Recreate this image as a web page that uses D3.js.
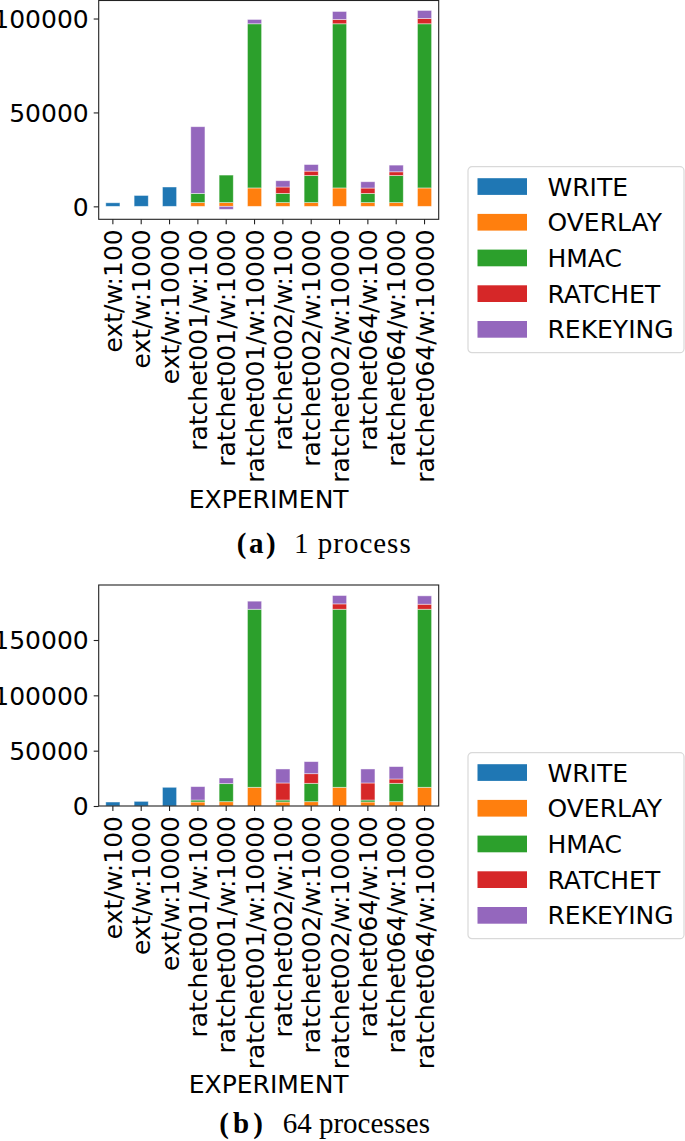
<!DOCTYPE html>
<html>
<head>
<meta charset="utf-8">
<script src="https://cdn.jsdelivr.net/npm/d3@7"></script>
<style>
  body { margin: 0; background: #fff; }
  text { font-family: "DejaVu Sans", sans-serif; }
</style>
</head>
<body>
<div id="chart"></div>
<script>
// Experiments on the x axis
var experiments = ["ext/w:100", "ext/w:1000", "ext/w:10000",
  "ratchet001/w:100", "ratchet001/w:1000", "ratchet001/w:10000",
  "ratchet002/w:100", "ratchet002/w:1000", "ratchet002/w:10000",
  "ratchet064/w:100", "ratchet064/w:1000", "ratchet064/w:10000"];

var seriesNames = ["WRITE", "OVERLAY", "HMAC", "RATCHET", "REKEYING"];
var seriesColors = ["#1f77b4", "#ff7f0e", "#2ca02c", "#d62728", "#9467bd"];

// (a) 1 process
var write1    = [1900, 5800, 10300, 0, 0, 0, 0, 0, 0, 0, 0, 0];
var overlay1  = [0, 0, 0, 2000, 2000, 9800, 2000, 2000, 9800, 2000, 2000, 9800];
var hmac1     = [0, 0, 0, 4900, 14650, 87400, 4900, 14430, 87400, 4900, 14430, 87400];
var ratchet1  = [0, 0, 0, 0, 0, 0, 3400, 2330, 2300, 2850, 1970, 2850];
var rekeying1 = [0, 0, 0, 35500, -1600, 2300, 3340, 3500, 4250, 3350, 3550, 4250];
var ticks1 = [0, 50000, 100000];

// (b) 64 processes
var write64    = [3600, 4200, 16900, 0, 0, 0, 0, 0, 0, 0, 0, 0];
var overlay64  = [0, 0, 0, 3600, 3900, 16900, 3600, 3900, 16900, 3600, 3900, 16900];
var hmac64     = [0, 0, 0, 1800, 16300, 160900, 1800, 16600, 160900, 1800, 16600, 160900];
var ratchet64  = [0, 0, 0, 0, 0, 0, 15400, 8700, 4850, 15400, 3900, 4550];
var rekeying64 = [0, 0, 0, 12100, 5100, 7300, 12650, 10900, 7550, 12650, 11200, 7550];
var ticks64 = [0, 50000, 100000, 150000];

var svgWidth = 685;
var svgHeight = 1141;
var fontSize = 25;

var svg = d3.select("#chart")
  .append("svg")
  .attr("width", svgWidth)
  .attr("height", svgHeight);

svg.append("rect")
  .attr("width", svgWidth)
  .attr("height", svgHeight)
  .attr("fill", "#fff");

var color = d3.scaleOrdinal().domain(seriesNames).range(seriesColors);

function drawChart(opts) {
  // build rows for d3.stack
  var rows = experiments.map(function(name, i) {
    var row = { name: name };
    seriesNames.forEach(function(s, k) { row[s] = opts.series[k][i]; });
    return row;
  });

  var stacked = d3.stack()
    .keys(seriesNames)
    .offset(d3.stackOffsetDiverging)(rows);

  // 5% margins like matplotlib, bottom sticks to 0 when nothing is negative
  var ymin = d3.min(stacked, s => d3.min(s, d => d[0]));
  var ymax = d3.max(stacked, s => d3.max(s, d => d[1]));
  var lo = ymin < 0 ? ymin : 0;
  var pad = (ymax - lo) * 0.05;
  var yDomain = [ymin < 0 ? ymin - pad : 0, ymax + pad];

  var xScale = d3.scaleBand()
    .domain(experiments)
    .range([opts.left, opts.right])
    .paddingInner(0.5)
    .paddingOuter(0.25);

  var yScale = d3.scaleLinear()
    .domain(yDomain)
    .range([opts.bottom, opts.top]);

  var g = svg.append("g");

  // bars
  g.selectAll("g.layer")
    .data(stacked)
    .enter()
    .append("g")
    .attr("fill", d => color(d.key))
    .selectAll("rect")
    .data(d => d.filter(p => p[1] !== p[0]))
    .enter()
    .append("rect")
    .attr("x", d => xScale(d.data.name))
    .attr("width", xScale.bandwidth())
    .attr("y", d => yScale(Math.max(d[0], d[1])))
    .attr("height", d => Math.abs(yScale(d[0]) - yScale(d[1])))
    .attr("stroke", "#fff")
    .attr("stroke-opacity", 0.55)
    .attr("stroke-width", 0.8);

  // y axis
  var leftAxis = d3.axisLeft(yScale)
    .tickValues(opts.ticks)
    .tickFormat(d3.format("d"))
    .tickSize(5)
    .tickSizeOuter(0)
    .tickPadding(5);

  var yAxis = g.append("g")
    .attr("transform", "translate(" + opts.left + ",0)")
    .call(leftAxis);
  yAxis.select(".domain").remove();
  yAxis.selectAll("text")
    .attr("font-size", fontSize)
    .attr("font-family", "DejaVu Sans")
    .attr("fill", "#000")
    .attr("dy", "0.35em");
  yAxis.selectAll("line").attr("stroke", "#222").attr("stroke-width", 1.1);

  // x axis with rotated labels
  var bottomAxis = d3.axisBottom(xScale)
    .tickSize(5)
    .tickSizeOuter(0)
    .tickPadding(5);

  var xAxis = g.append("g")
    .attr("transform", "translate(0," + opts.bottom + ")")
    .call(bottomAxis);
  xAxis.select(".domain").remove();
  xAxis.selectAll("line").attr("stroke", "#222").attr("stroke-width", 1.1);
  xAxis.selectAll("text")
    .attr("font-size", fontSize)
    .attr("font-family", "DejaVu Sans")
    .attr("fill", "#000")
    .attr("text-anchor", "end")
    .attr("transform", "rotate(-90)")
    .attr("x", -10)
    .attr("y", 0)
    .attr("dy", "0.36em");

  // frame
  g.append("rect")
    .attr("x", opts.left)
    .attr("y", opts.top)
    .attr("width", opts.right - opts.left)
    .attr("height", opts.bottom - opts.top)
    .attr("fill", "none")
    .attr("stroke", "#222")
    .attr("stroke-width", 1.1);

  // axis title
  g.append("text")
    .attr("x", (opts.left + opts.right) / 2)
    .attr("y", opts.xTitleY)
    .attr("text-anchor", "middle")
    .attr("font-size", fontSize)
    .text("EXPERIMENT");

  // legend
  var legend = g.append("g")
    .attr("transform", "translate(468," + opts.legendTop + ")");
  legend.append("rect")
    .attr("width", 216)
    .attr("height", 186)
    .attr("rx", 4)
    .attr("fill", "#fff")
    .attr("stroke", "#d9d9d9")
    .attr("stroke-width", 1.2);
  var items = legend.selectAll("g.item")
    .data(seriesNames)
    .enter()
    .append("g")
    .attr("transform", (d, i) => "translate(0," + (11.5 + i * 35.7) + ")");
  items.append("rect")
    .attr("x", 9.5)
    .attr("width", 49.5)
    .attr("height", 16.7)
    .attr("fill", d => color(d));
  items.append("text")
    .attr("x", 79.5)
    .attr("y", 17.4)
    .attr("font-size", fontSize)
    .text(d => d);

  // caption
  var cap = g.append("g")
    .attr("font-size", 29);
  cap.append("text")
    .style("font-family", "'Liberation Serif', serif")
    .attr("x", opts.capX[0])
    .attr("y", opts.capY)
    .attr("font-weight", "bold")
    .attr("textLength", opts.capLen[0])
    .text(opts.capLabel);
  cap.append("text")
    .style("font-family", "'Liberation Serif', serif")
    .attr("x", opts.capX[1])
    .attr("y", opts.capY)
    .attr("textLength", opts.capLen[1])
    .text(opts.capText);
}

drawChart({
  series: [write1, overlay1, hmac1, ratchet1, rekeying1],
  ticks: ticks1,
  left: 98.7, right: 438.7, top: 0.5, bottom: 219.3,
  xTitleY: 507.7,
  legendTop: 166.7,
  capLabel: "(a)", capText: "1 process",
  capX: [236.7, 294], capLen: [39, 116.7], capY: 553
});

drawChart({
  series: [write64, overlay64, hmac64, ratchet64, rekeying64],
  ticks: ticks64,
  left: 98.7, right: 438.7, top: 585, bottom: 806,
  xTitleY: 1093,
  legendTop: 752.7,
  capLabel: "(b)", capText: "64 processes",
  capX: [219.3, 282.7], capLen: [43.7, 147.3], capY: 1133
});
</script>
</body>
</html>
